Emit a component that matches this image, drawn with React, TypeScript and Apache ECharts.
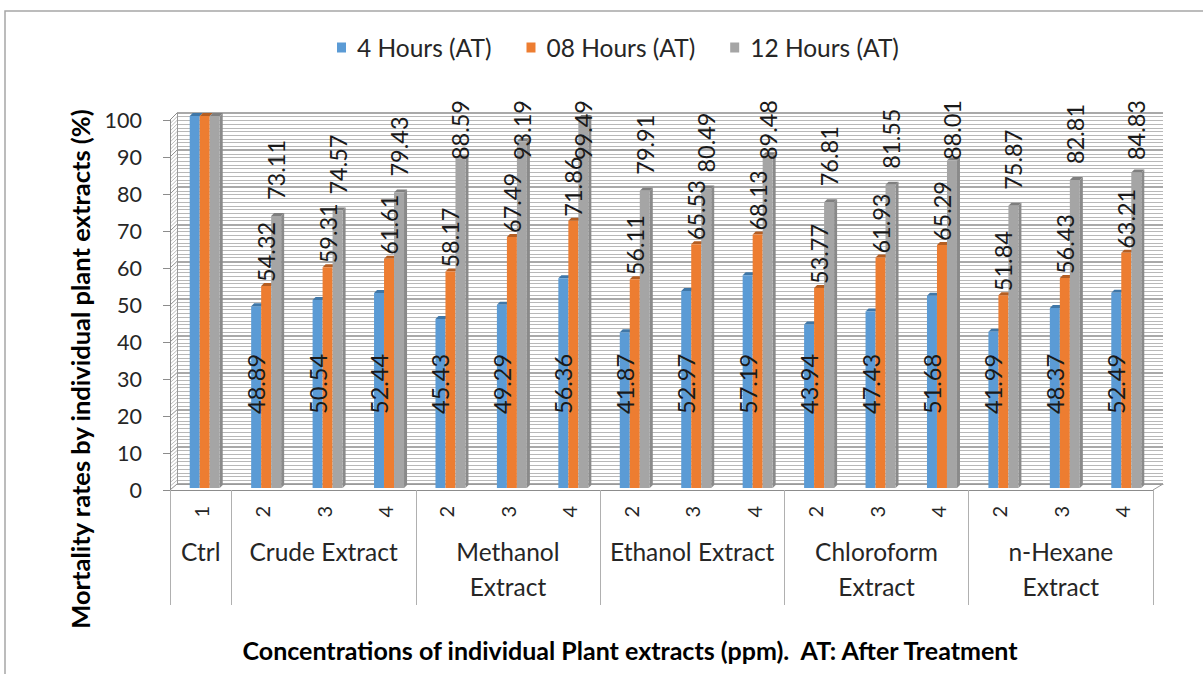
import React, { useEffect, useRef } from 'react';
import * as echarts from 'echarts';

// ---------- data ----------
const seriesNames = ['4 Hours (AT)', '08 Hours (AT)', '12 Hours (AT)'];
const groupNames = ['Ctrl', 'Crude Extract', 'Methanol\nExtract', 'Ethanol Extract', 'Chloroform\nExtract', 'n-Hexane\nExtract'];
const groupConcentrations = [['1'], ['2', '3', '4'], ['2', '3', '4'], ['2', '3', '4'], ['2', '3', '4'], ['2', '3', '4']];
const hours4 = [100, 48.89, 50.54, 52.44, 45.43, 49.29, 56.36, 41.87, 52.97, 57.19, 43.94, 47.43, 51.68, 41.99, 48.37, 52.49];
const hours8 = [100, 54.32, 59.31, 61.61, 58.17, 67.49, 71.86, 56.11, 65.53, 68.13, 53.77, 61.93, 65.29, 51.84, 56.43, 63.21];
const hours12 = [100, 73.11, 74.57, 79.43, 88.59, 93.19, 99.49, 79.91, 80.49, 89.48, 76.81, 81.55, 88.01, 75.87, 82.81, 84.83];
const yMin = 0;
const yMax = 100;
const yInterval = 10;
const yAxisTitle = 'Mortality rates by individual plant extracts (%)';
const xAxisTitle = 'Concentrations of individual Plant extracts (ppm).  AT: After Treatment';

// ---------- styles ----------
const FONT = "Lato, 'Liberation Sans', sans-serif";
const W = 1203;
const H = 674;
const colors = ['#5b9bd5', '#ed7d31', '#a5a5a5'];
const topColors = ['#3f77a8', '#b55e22', '#7f7f7f'];
const sideColor = '#8a8a8a';
const BAR_W = 10;
const DEPTH = 3;
const LABEL_TOP = 100;
const FRONT = { left: 170, right: 50, top: 120, bottom: 184 };
const BACK = { left: 177, right: 40, top: 113, bottom: 190 };
const BARS = { left: 174, right: 46, top: 116, bottom: 186 };

// build categories from groups
const categories: string[] = [];
const groupRow: string[] = [];
const groupStarts: number[] = [];
groupConcentrations.forEach((concs, g) => {
  groupStarts.push(categories.length);
  const mid = Math.floor(concs.length / 2);
  concs.forEach((c, j) => {
    categories.push(c);
    groupRow.push(j === mid ? groupNames[g] : '');
  });
});

const seriesValues = [hours4, hours8, hours12];

const labelBase = {
  show: true,
  rotate: 90,
  align: 'left',
  verticalAlign: 'middle',
  fontSize: 23.5,
  fontFamily: FONT,
  color: '#1a1a1a',
  formatter: (p: any) => Number(p.value).toFixed(2),
};

const labelStyles: any[] = [
  { ...labelBase, position: 'insideBottom', distance: 74, offset: [-3, 0] },
  { ...labelBase, position: 'top', distance: 4, offset: [1, 0] },
  { ...labelBase, position: 'top', distance: 16, offset: [2, 0] },
];

const clampLabel = (p: any) => {
  const r = p.labelRect;
  if (r && r.y < LABEL_TOP) return { y: LABEL_TOP + r.height };
  return {};
};

const barSeries = seriesValues.map((vals, s) => ({
  name: seriesNames[s],
  type: 'bar',
  xAxisIndex: 3,
  yAxisIndex: 2,
  barWidth: BAR_W,
  barGap: '0%',
  z: 2,
  itemStyle: { color: colors[s] },
  label: labelStyles[s],
  labelLayout: clampLabel,
  data: vals.map((v, i) => (groupStarts[0] === i && groupConcentrations[0].length === 1 ? { value: v, label: { show: false } } : v)),
}));

const faceSeries = seriesValues.map((vals, s) => ({
  type: 'custom',
  xAxisIndex: 3,
  yAxisIndex: 2,
  z: 1,
  silent: true,
  data: vals.map((v, i) => [i, v]),
  encode: { x: 0, y: 1 },
  renderItem: (params: any, api: any) => {
    const i = api.value(0);
    const v = api.value(1);
    const t = api.coord([i, v]);
    const b = api.coord([i, 0]);
    const l = t[0] + (s - 1.5) * BAR_W;
    const r = l + BAR_W;
    const children: any[] = [
      {
        type: 'polygon',
        shape: { points: [[l, t[1]], [l + DEPTH, t[1] - DEPTH], [r + DEPTH, t[1] - DEPTH], [r, t[1]]] },
        style: { fill: topColors[s] },
      },
    ];
    if (s === 2) {
      children.push({
        type: 'polygon',
        shape: { points: [[r, t[1]], [r + DEPTH, t[1] - DEPTH], [r + DEPTH, b[1] - DEPTH], [r, b[1]]] },
        style: { fill: sideColor },
      });
    }
    return { type: 'group', children };
  },
}));

const option: any = {
  animation: false,
  backgroundColor: '#ffffff',
  legend: {
    data: seriesNames,
    left: 337,
    top: 35,
    padding: 0,
    itemWidth: 9,
    itemHeight: 10,
    itemGap: 35,
    icon: 'rect',
    textStyle: { fontSize: 24.5, fontFamily: FONT, color: '#262626', padding: [0, 0, 0, 6] },
  },
  grid: [
    { ...FRONT, outerBoundsMode: 'none', containLabel: false },
    { ...BACK, outerBoundsMode: 'none', containLabel: false },
    { ...BARS, outerBoundsMode: 'none', containLabel: false },
  ],
  xAxis: [
    {
      type: 'category',
      gridIndex: 0,
      data: categories,
      position: 'bottom',
      axisLine: { show: true, lineStyle: { color: '#8c8c8c', width: 1 } },
      axisTick: {
        show: true,
        length: 115,
        interval: (i: number) => groupStarts.includes(i),
        lineStyle: { color: '#b0b0b0', width: 1 },
      },
      axisLabel: {
        interval: 0,
        rotate: 90,
        margin: 16,
        fontSize: 20,
        fontFamily: FONT,
        color: '#262626',
      },
      splitLine: { show: false },
    },
    {
      type: 'category',
      gridIndex: 0,
      data: groupRow,
      position: 'bottom',
      axisLine: { show: false },
      axisTick: { show: false },
      axisLabel: {
        interval: 0,
        margin: 44,
        fontSize: 24.5,
        lineHeight: 35,
        fontFamily: FONT,
        color: '#262626',
        align: 'center',
      },
      splitLine: { show: false },
    },
    {
      type: 'category',
      gridIndex: 1,
      data: categories,
      axisLine: { show: true, lineStyle: { color: '#9a9a9a', width: 1 } },
      axisTick: { show: false },
      axisLabel: { show: false },
      splitLine: { show: false },
    },
    {
      type: 'category',
      gridIndex: 2,
      data: categories,
      show: false,
    },
  ],
  yAxis: [
    {
      type: 'value',
      gridIndex: 0,
      min: yMin,
      max: yMax,
      interval: yInterval,
      axisLine: { show: true, lineStyle: { color: '#8c8c8c', width: 1 } },
      axisTick: { show: true, length: 7, lineStyle: { color: '#8c8c8c' } },
      axisLabel: { margin: 28, fontSize: 21.5, fontFamily: FONT, color: '#262626' },
      splitLine: { show: false },
    },
    {
      type: 'value',
      gridIndex: 1,
      min: yMin,
      max: yMax,
      interval: yInterval,
      axisLine: { show: true, lineStyle: { color: '#9a9a9a', width: 1 } },
      axisTick: { show: false },
      axisLabel: { show: false },
      splitLine: { show: true, lineStyle: { color: '#8c8c8c', width: 1.5 } },
      minorTick: { show: false, splitNumber: 10 },
      minorSplitLine: { show: true, lineStyle: { color: '#b8b8b8', width: 1 } },
    },
    {
      type: 'value',
      gridIndex: 2,
      min: yMin,
      max: yMax,
      interval: yInterval,
      show: false,
      splitLine: { show: false },
    },
  ],
  series: [...faceSeries, ...barSeries],
};

export default function App() {
  const ref = useRef<HTMLDivElement>(null);
  useEffect(() => {
    if (!ref.current) return;
    const chart = echarts.init(ref.current, null, { renderer: 'svg' });
    chart.setOption(option);

    const frontLeft = FRONT.left;
    const backLeft = BACK.left;
    const frontRight = W - FRONT.right;
    const backRight = W - BACK.right;
    const elements: any[] = [
      {
        type: 'rect',
        silent: true,
        z: -10,
        shape: { x: 5, y: 11, width: 1400, height: 900 },
        style: { fill: 'none', stroke: '#a6a6a6', lineWidth: 1.5 },
      },
      {
        type: 'text',
        x: 80,
        y: 369,
        rotation: Math.PI / 2,
        style: {
          text: yAxisTitle,
          align: 'center',
          verticalAlign: 'middle',
          fontSize: 25.5,
          fontWeight: 'bold',
          fontFamily: FONT,
          fill: '#000000',
        },
      },
      {
        type: 'text',
        x: 630,
        y: 650,
        style: {
          text: xAxisTitle,
          align: 'center',
          verticalAlign: 'middle',
          fontSize: 25,
          fontWeight: 'bold',
          fontFamily: FONT,
          fill: '#000000',
        },
      },
    ];
    const y0F = chart.convertToPixel({ yAxisIndex: 0 }, 0) as number;
    const y0B = chart.convertToPixel({ yAxisIndex: 1 }, 0) as number;
    for (let v = yMin; v <= yMax; v += 1) {
      const yF = chart.convertToPixel({ yAxisIndex: 0 }, v) as number;
      const yB = chart.convertToPixel({ yAxisIndex: 1 }, v) as number;
      const major = v % yInterval === 0;
      elements.push({
        type: 'line',
        silent: true,
        shape: { x1: frontLeft, y1: yF, x2: backLeft, y2: yB },
        style: { stroke: major ? '#8c8c8c' : '#bdbdbd', lineWidth: 1 },
      });
    }
    elements.push({
      type: 'line',
      silent: true,
      shape: { x1: frontRight, y1: y0F, x2: backRight, y2: y0B },
      style: { stroke: '#9a9a9a', lineWidth: 1 },
    });
    chart.setOption({ graphic: { elements } });
    return () => chart.dispose();
  }, []);
  return (
    <div
      ref={ref}
      style={{ position: 'fixed', left: 0, top: 0, width: W, height: H, background: '#ffffff' }}
    />
  );
}
